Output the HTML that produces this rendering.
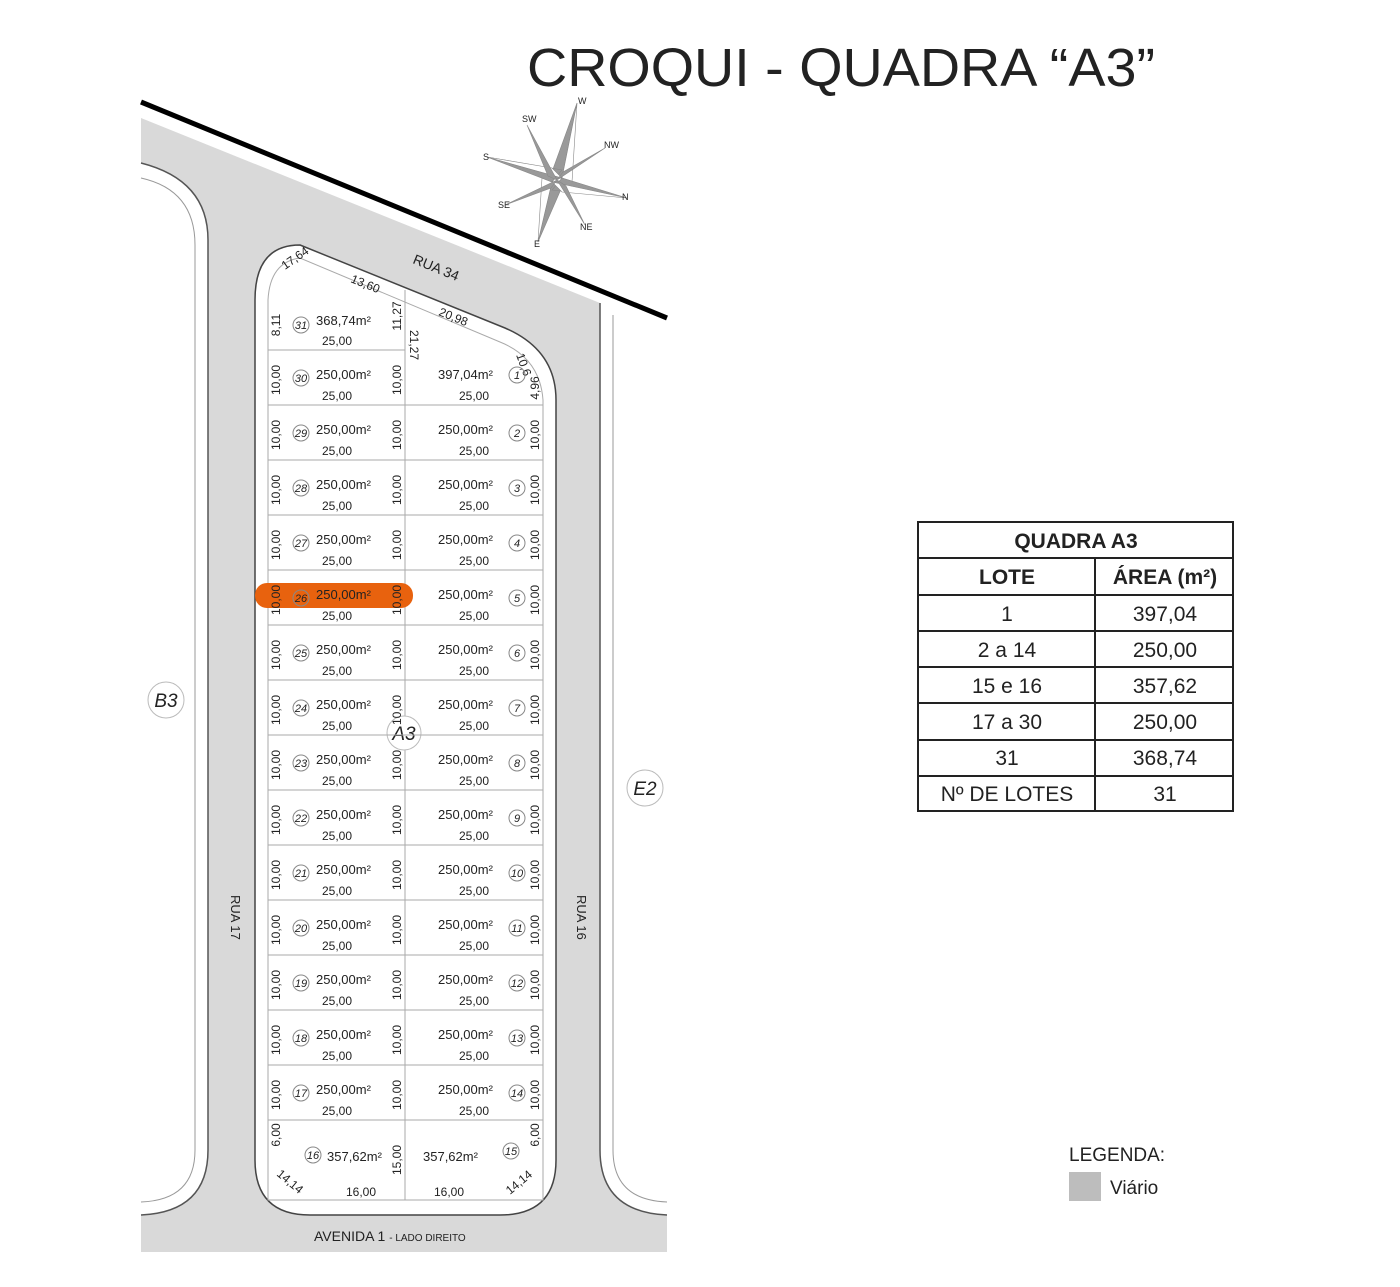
<!DOCTYPE html>
<html><head><meta charset="utf-8"><style>
html,body{margin:0;padding:0;background:#fff;width:1400px;height:1287px;overflow:hidden}
svg{display:block}
.t{font-family:"Liberation Sans",sans-serif;fill:#222}
.s{font-size:13px}.u{font-size:12px}.n{font-size:11px;font-style:italic}
</style></head><body>
<svg width="1400" height="1287" viewBox="0 0 1400 1287" xmlns="http://www.w3.org/2000/svg">
<text x="527" y="86" class="t" font-size="54" textLength="628" lengthAdjust="spacingAndGlyphs" fill="#111">CROQUI - QUADRA “A3”</text>
<!-- roads -->
<polygon points="141,118 600,303 667,303 667,1252 141,1252" fill="#d9d9d9"/>
<!-- E2 block -->
<path d="M600,303 L600,1150 Q600,1212 667,1215 L667,303 Z" fill="#fff"/>
<path d="M600,303 L600,1150 Q600,1212 667,1215" fill="none" stroke="#555" stroke-width="1.5"/>
<path d="M613,315 L613,1150 Q613,1200 667,1202" fill="none" stroke="#999"/>
<!-- B3 block -->
<path d="M141,163 Q208,180 208,240 L208,1150 Q208,1212 141,1215 Z" fill="#fff"/>
<path d="M141,163 Q208,180 208,240 L208,1150 Q208,1212 141,1215" fill="none" stroke="#555" stroke-width="1.5"/>
<path d="M141,178 Q195,190 195,245 L195,1150 Q195,1200 141,1202" fill="none" stroke="#999"/>
<line x1="141" y1="102" x2="667" y2="318" stroke="#000" stroke-width="5"/>
<!-- A3 block -->
<path d="M300,245 L505,328 Q556,350 556,400 L556,1160 Q556,1215 500,1215 L310,1215 Q255,1215 255,1160 L255,300 Q255,245 300,245 Z" fill="#fff" stroke="#444" stroke-width="1.5"/>
<path d="M268,300 Q270,262 300,258 L500,342 Q540,358 543,400 L543,1200 L268,1200 Z" fill="none" stroke="#aaa"/>
<line x1="405" y1="290" x2="405" y2="1200" stroke="#aaa"/>
<line x1="268" y1="350" x2="405" y2="350" stroke="#aaa"/>
<!-- highlight -->
<rect x="255" y="583" width="158" height="25" rx="12" fill="#e8620e"/>
<!-- compass -->
<g fill="#999" stroke="#888" stroke-width="0.6">
<polygon points="577,103 562,178 549,180"/>
<polygon points="577,103 562,178 572,182" fill="#fff"/>
<polygon points="538,242 552,182 565,180"/>
<polygon points="538,242 552,182 542,178" fill="#fff"/>
<polygon points="487,157 552,182 562,170"/>
<polygon points="487,157 562,178 552,168" fill="#fff"/>
<polygon points="627,198 562,178 552,190"/>
<polygon points="627,198 552,182 562,192" fill="#fff"/>
<polygon points="527,125 557,180 548,176"/>
<polygon points="605,148 557,180 563,172"/>
<polygon points="505,205 557,180 551,188"/>
<polygon points="585,225 557,180 566,186"/>
</g>
<g class="t" font-size="9">
<text x="578" y="104">W</text><text x="522" y="122">SW</text><text x="483" y="160">S</text><text x="604" y="148">NW</text><text x="622" y="200">N</text><text x="498" y="208">SE</text><text x="580" y="230">NE</text><text x="534" y="247">E</text>
</g>
<!-- street labels -->
<text class="t" font-size="14" transform="translate(412,263) rotate(22)">RUA 34</text>
<text class="t" font-size="13" transform="translate(231,895) rotate(90)">RUA 17</text>
<text class="t" font-size="13" transform="translate(577,895) rotate(90)">RUA 16</text>
<text class="t" x="314" y="1241" font-size="14">AVENIDA 1 <tspan font-size="10">- LADO DIREITO</tspan></text>
<circle cx="166" cy="700" r="18" fill="#fff" stroke="#bbb"/><text class="t" x="166" y="707" font-size="19" font-style="italic" text-anchor="middle">B3</text>
<circle cx="645" cy="788" r="18" fill="#fff" stroke="#bbb"/><text class="t" x="645" y="795" font-size="19" font-style="italic" text-anchor="middle">E2</text>
<circle cx="404" cy="733" r="17" fill="#fff" stroke="#bbb"/><text class="t" x="404" y="740" font-size="19" font-style="italic" text-anchor="middle">A3</text>
<!-- lot 31 -->
<g class="t">
<text class="u" transform="translate(285,270) rotate(-35)">17,64</text>
<text class="u" transform="translate(350,282) rotate(22)">13,60</text>
<text class="u" transform="translate(438,315) rotate(22)">20,98</text>
<text class="u" transform="translate(280,325) rotate(-90)" text-anchor="middle">8,11</text>
<circle cx="301" cy="325" r="8" fill="none" stroke="#888"/><text class="n" x="301" y="329" text-anchor="middle">31</text>
<text class="s" x="316" y="325">368,74m²</text>
<text class="u" x="337" y="345" text-anchor="middle">25,00</text>
<text class="u" transform="translate(401,316) rotate(-90)" text-anchor="middle">11,27</text>
<text class="u" transform="translate(410,345) rotate(90)" text-anchor="middle">21,27</text>
<text class="u" transform="translate(516,355) rotate(70)">10,6</text>
</g>
<defs>
<g id="row">
<line x1="268" y1="405" x2="543" y2="405" stroke="#aaa"/>
<text class="t u" transform="translate(280,380) rotate(-90)" text-anchor="middle">10,00</text>
<circle cx="301" cy="378" r="8" fill="none" stroke="#888"/>
<text class="t s" x="316" y="379">250,00m²</text>
<text class="t u" x="337" y="400" text-anchor="middle">25,00</text>
<text class="t u" transform="translate(401,380) rotate(-90)" text-anchor="middle">10,00</text>
<text class="t s" x="438" y="379">250,00m²</text>
<circle cx="517" cy="378" r="8" fill="none" stroke="#888"/>
<text class="t u" x="474" y="400" text-anchor="middle">25,00</text>
<text class="t u" transform="translate(539,380) rotate(-90)" text-anchor="middle">10,00</text>
</g>
</defs>
<line x1="268" y1="405" x2="543" y2="405" stroke="#aaa"/>
<text class="t u" transform="translate(280,380) rotate(-90)" text-anchor="middle">10,00</text>
<circle cx="301" cy="378" r="8" fill="none" stroke="#888"/><text class="t n" x="301" y="382" text-anchor="middle">30</text>
<text class="t s" x="316" y="379">250,00m²</text>
<text class="t u" x="337" y="400" text-anchor="middle">25,00</text>
<text class="t u" transform="translate(401,380) rotate(-90)" text-anchor="middle">10,00</text>
<text class="t s" x="438" y="379">397,04m²</text>
<circle cx="517" cy="375" r="8" fill="none" stroke="#888"/><text class="t n" x="517" y="379" text-anchor="middle">1</text>
<text class="t u" x="474" y="400" text-anchor="middle">25,00</text>
<text class="t u" transform="translate(539,388) rotate(-90)" text-anchor="middle">4,96</text>
<g>
<use href="#row" y="55"/><use href="#row" y="110"/><use href="#row" y="165"/><use href="#row" y="220"/><use href="#row" y="275"/><use href="#row" y="330"/><use href="#row" y="385"/><use href="#row" y="440"/><use href="#row" y="495"/><use href="#row" y="550"/><use href="#row" y="605"/><use href="#row" y="660"/><use href="#row" y="715"/>
</g>
<g class="t n" text-anchor="middle">
<text x="301" y="437">29</text><text x="517" y="437">2</text>
<text x="301" y="492">28</text><text x="517" y="492">3</text>
<text x="301" y="547">27</text><text x="517" y="547">4</text>
<text x="301" y="602">26</text><text x="517" y="602">5</text>
<text x="301" y="657">25</text><text x="517" y="657">6</text>
<text x="301" y="712">24</text><text x="517" y="712">7</text>
<text x="301" y="767">23</text><text x="517" y="767">8</text>
<text x="301" y="822">22</text><text x="517" y="822">9</text>
<text x="301" y="877">21</text><text x="517" y="877">10</text>
<text x="301" y="932">20</text><text x="517" y="932">11</text>
<text x="301" y="987">19</text><text x="517" y="987">12</text>
<text x="301" y="1042">18</text><text x="517" y="1042">13</text>
<text x="301" y="1097">17</text><text x="517" y="1097">14</text>
</g>
<g class="t">
<text class="u" transform="translate(280,1135) rotate(-90)" text-anchor="middle">6,00</text>
<circle cx="313" cy="1155" r="8" fill="none" stroke="#888"/><text class="n" x="313" y="1159" text-anchor="middle">16</text>
<text class="s" x="327" y="1161">357,62m²</text>
<text class="u" transform="translate(401,1160) rotate(-90)" text-anchor="middle">15,00</text>
<text class="s" x="423" y="1161">357,62m²</text>
<circle cx="511" cy="1151" r="8" fill="none" stroke="#888"/><text class="n" x="511" y="1155" text-anchor="middle">15</text>
<text class="u" transform="translate(539,1135) rotate(-90)" text-anchor="middle">6,00</text>
<text class="u" transform="translate(276,1175) rotate(40)">14,14</text>
<text class="u" transform="translate(510,1195) rotate(-40)">14,14</text>
<text class="u" x="361" y="1196" text-anchor="middle">16,00</text>
<text class="u" x="449" y="1196" text-anchor="middle">16,00</text>
</g>
<g stroke="#222" stroke-width="2" fill="none">
<rect x="918" y="522" width="315" height="289"/>
<line x1="918" y1="558" x2="1233" y2="558"/><line x1="918" y1="595" x2="1233" y2="595"/><line x1="918" y1="631" x2="1233" y2="631"/><line x1="918" y1="667" x2="1233" y2="667"/><line x1="918" y1="703" x2="1233" y2="703"/><line x1="918" y1="740" x2="1233" y2="740"/><line x1="918" y1="776" x2="1233" y2="776"/>
<line x1="1095" y1="558" x2="1095" y2="811"/>
</g>
<g class="t" font-size="21" text-anchor="middle">
<text x="1076" y="548" font-weight="bold">QUADRA A3</text>
<text x="1007" y="584" font-weight="bold">LOTE</text><text x="1165" y="584" font-weight="bold">ÁREA (m²)</text>
<text x="1007" y="621">1</text><text x="1165" y="621">397,04</text>
<text x="1007" y="657">2 a 14</text><text x="1165" y="657">250,00</text>
<text x="1007" y="693">15 e 16</text><text x="1165" y="693">357,62</text>
<text x="1007" y="729">17 a 30</text><text x="1165" y="729">250,00</text>
<text x="1007" y="765">31</text><text x="1165" y="765">368,74</text>
<text x="1007" y="801">Nº DE LOTES</text><text x="1165" y="801">31</text>
</g>
<text class="t" x="1069" y="1161" font-size="19" fill="#444">LEGENDA:</text>
<rect x="1069" y="1172" width="32" height="29" fill="#bdbdbd"/>
<text class="t" x="1110" y="1194" font-size="19" fill="#444">Viário</text>
</svg>
</body></html>
